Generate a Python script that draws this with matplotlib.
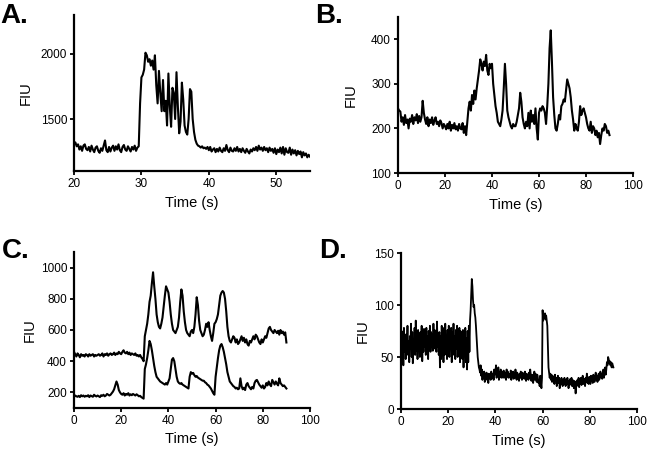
import numpy as np
import matplotlib
matplotlib.use("Agg")
import matplotlib.pyplot as plt

plt.rcParams['font.family'] = ['Liberation Sans', 'DejaVu Sans']

# ---------------- data ----------------
# Panel A: sampled every 0.2 s from 20 s
a_t0, a_dt = 20.0, 0.2
a_values = [
    1310, 1320, 1290, 1305, 1265, 1290, 1255, 1295, 1305, 1270,
    1260, 1285, 1250, 1295, 1265, 1245, 1280, 1290, 1255, 1240,
    1275, 1255, 1295, 1335, 1260, 1245, 1285, 1250, 1280, 1295,
    1255, 1290, 1265, 1305, 1260, 1245, 1285, 1300, 1265, 1255,
    1290, 1270, 1250, 1285, 1265, 1295, 1255, 1280,
    1290, 1620, 1820, 1840, 1880, 2010, 1990, 1940, 1960, 1910,
    1950, 1880, 1990, 1760, 1620, 1870, 1700, 1560, 1800, 1560,
    1640, 1450, 1850, 1600, 1440, 1740, 1700, 1500, 1860, 1600,
    1390, 1480, 1780, 1650, 1450, 1400, 1380, 1500, 1730, 1710,
    1500, 1400, 1340, 1310, 1295, 1290, 1280, 1290, 1275, 1280,
    1270, 1285,
    1260, 1285, 1250, 1265, 1275, 1245, 1270, 1250, 1280, 1255,
    1245, 1275, 1255, 1300, 1260, 1245, 1280, 1255, 1250, 1275,
    1255, 1285, 1250, 1270, 1245, 1275, 1255, 1240, 1270, 1250,
    1235, 1265, 1250, 1275, 1260, 1285, 1255, 1295, 1265, 1280,
    1255, 1285, 1260, 1275, 1245, 1280, 1255, 1270, 1240, 1275,
    1230, 1265, 1245, 1280, 1235, 1285, 1225, 1275, 1245, 1240,
    1280, 1225, 1265, 1235, 1260, 1220, 1255, 1230, 1250, 1205,
    1245, 1220, 1235, 1205, 1225, 1210,
]

# Panel B: sampled every 0.5 s from 0 s
b_t0, b_dt = 0.0, 0.5
b_values = [
    245, 240, 238, 215, 225, 208, 230, 212, 220, 200,
    222, 215, 230, 210, 225, 218, 232, 212, 228, 215,
    225, 262, 235, 220, 210, 225, 205, 220, 212, 225,
    208, 218, 225, 210, 215, 205, 218, 212, 200, 210,
    205, 198, 210, 200, 215, 195, 208, 200, 212, 198,
    205, 195, 210, 200, 198, 212, 190, 205, 185, 215,
    245, 260, 240, 275, 255, 285, 265, 290, 310, 330,
    355, 345, 330, 350, 340, 365, 330, 320, 345, 335,
    345, 300, 275, 250, 235, 215, 210, 205, 220, 240,
    290, 345, 300, 240, 225, 215, 205, 200, 210, 205,
    205, 215, 230, 245, 280, 260, 225, 210, 200, 215,
    205, 235, 200, 240, 215, 230, 210, 245, 200, 175,
    235, 245, 240, 250, 245, 235, 210, 250, 300, 380,
    420, 350, 270, 230, 200, 195, 210, 230, 220, 250,
    255, 265, 260, 285, 310, 300, 290, 270, 240, 220,
    195, 210, 200, 195, 215, 250, 230, 240, 245, 235,
    225, 210, 200, 195, 215, 190, 205, 200, 185, 195,
    180, 190, 165, 185, 200, 195, 210, 205, 190, 195,
    185,
]

# Panel C: two traces sampled every 0.5 s from 0 s
c_t0, c_dt = 0.0, 0.5
c_upper = [
    460, 445, 430, 450, 440, 425, 445, 435, 440, 430,
    445, 440, 430, 445, 435, 440, 445, 430, 440, 435,
    440, 445, 435, 440, 450, 430, 445, 440, 450, 435,
    445, 450, 440, 445, 455, 440, 450, 445, 460, 450,
    445, 460, 470, 455, 450, 460, 445, 455, 440, 450,
    445, 440, 450, 435, 440, 430, 440, 425, 415, 400,
    560, 600, 640, 700, 780, 820, 900, 970, 880, 800,
    700, 650, 620, 610, 640, 680, 750, 820, 880, 860,
    840, 780, 700, 640, 600, 590, 580, 600, 620, 680,
    780, 860, 820, 720, 650, 600, 580, 570, 560, 590,
    600, 580, 620, 700, 810, 760, 660, 600, 580, 560,
    570, 600, 640, 620, 650, 600, 560, 530, 580, 640,
    650, 670, 700, 760, 820, 840, 850, 840, 800, 720,
    620, 560, 530, 520, 540, 560, 550, 520, 540, 510,
    520, 540, 560, 530, 550, 520, 540, 510, 500, 530,
    520, 540, 560, 540, 570, 560, 540, 520, 510, 540,
    520, 540, 560, 550, 580, 610, 620, 600, 590, 580,
    600, 590, 580, 595, 570, 600, 580, 590, 570, 585,
    520,
]
c_lower = [
    170, 180, 175, 172, 178, 170, 182, 175, 180, 172,
    178, 175, 182, 170, 180, 176, 172, 185, 178, 174,
    180, 175, 170, 182, 178, 185, 175, 180, 190, 185,
    180, 185, 195, 205, 220, 245, 270, 250, 215, 200,
    190, 185, 195, 180, 190, 185, 195, 180, 188, 182,
    190, 185, 180, 188, 182, 175, 178, 170, 165, 160,
    350, 380, 420, 470, 530, 510, 470, 420, 370, 330,
    300, 290, 280, 270, 265, 260, 255, 250, 260, 250,
    270, 290, 350, 410, 420, 400, 350, 300, 270, 260,
    255, 260, 250, 245, 240, 235, 230, 225, 300, 330,
    320, 325, 310, 300, 305, 295, 290, 285, 280, 275,
    275, 265, 260, 250, 245, 235, 225, 210, 195, 185,
    300, 360, 420, 470, 500, 510, 490, 460, 420, 380,
    330, 300, 270, 260, 250, 240, 235, 225, 230, 220,
    225, 290, 240, 220, 230, 215, 250, 260, 240, 230,
    220, 235, 225, 260, 275, 280, 265, 250, 240, 230,
    245, 225, 235, 260, 245, 270, 250, 240, 280, 265,
    250, 270, 255, 245, 290, 260, 250, 240, 245, 235,
    225,
]

# Panel D: sampled every 0.25 s from 0 s
d_t0, d_dt = 0.0, 0.25
d_values = [
    45, 75, 50, 70, 42, 78, 55, 68,
    48, 72, 60, 80, 52, 65, 45, 70,
    58, 82, 50, 74, 44, 66, 60, 78,
    52, 85, 56, 72, 48, 76, 62, 70,
    50, 74, 58, 80, 46, 68, 55, 77,
    60, 72, 52, 78, 58, 70, 48, 75,
    62, 80, 55, 74, 60, 72, 56, 82,
    58, 76, 64, 70, 55, 84, 60, 72,
    52, 74, 40, 70, 48, 80, 58, 66,
    45, 78, 52, 82, 60, 70, 48, 76,
    55, 80, 50, 72, 62, 78, 45, 74,
    60, 82, 52, 70, 48, 76, 58, 80,
    50, 72, 62, 78, 45, 75, 55, 70,
    48, 76, 40, 72, 52, 78, 45, 68,
    38, 75, 45, 80, 55, 85, 95, 110,
    125, 118, 105, 98, 100, 92, 88, 80,
    70, 60, 50, 45, 40, 38, 35, 42,
    32, 38, 28, 35, 30, 36, 26, 34,
    30, 35, 28, 33, 25, 34, 30, 32,
    28, 36, 32, 30, 34, 28, 38, 33,
    35, 42, 30, 38, 33, 40, 28, 35,
    32, 38, 30, 36, 34, 30, 37, 33,
    30, 35, 28, 38, 32, 36, 30, 34,
    33, 30, 37, 28, 35, 31, 36, 29,
    34, 30, 38, 32, 28, 35, 30, 33,
    27, 34, 30, 36, 32, 28, 35, 30,
    33, 29, 36, 31, 27, 34, 30, 32,
    28, 35, 30, 38, 32, 27, 33, 30,
    25, 32, 36, 28, 34, 30, 26, 33,
    30, 25, 28, 22, 32, 26, 20, 30,
    95, 85, 90, 88, 92, 86, 90, 85,
    80, 60, 40, 35, 30, 34, 28, 33,
    26, 32, 28, 30, 24, 33, 27, 30,
    22, 28, 32, 25, 30, 20, 27, 24,
    30, 25, 22, 28, 24, 30, 26, 22,
    28, 24, 30, 26, 20, 27, 23, 29,
    25, 30, 22, 28, 26, 20, 27, 24,
    15, 26, 22, 28, 24, 30, 21, 27,
    25, 30, 23, 28, 32, 24, 29, 26,
    22, 30, 27, 34, 25, 29, 24, 31,
    28, 24, 32, 27, 30, 25, 33, 28,
    26, 30, 35, 28, 32, 26, 30, 34,
    28, 32, 36, 30, 34, 29, 33, 38,
    30, 35, 40, 33, 38, 45, 42, 50,
    48, 44, 46, 42, 45, 40, 44, 42,
    40,
]

panel_letters = ["A.", "B.", "C.", "D."]
a_xticks = [20, 30, 40, 50]
a_yticks = [1500, 2000]
b_xticks = [0, 20, 40, 60, 80, 100]
b_yticks = [100, 200, 300, 400]
c_xticks = [0, 20, 40, 60, 80, 100]
c_yticks = [200, 400, 600, 800, 1000]
d_xticks = [0, 20, 40, 60, 80, 100]
d_yticks = [0, 50, 100, 150]
xlabel = "Time (s)"
ylabel = "FIU"


def times(t0, dt, vals):
    return t0 + dt * np.arange(len(vals))


# ---------------- figure ----------------
W, H = 647, 451
fig = plt.figure(figsize=(W / 100, H / 100), dpi=100)


def px_axes(left, top, right, bottom):
    return fig.add_axes([left / W, 1 - bottom / H, (right - left) / W, (bottom - top) / H])


axA = px_axes(74, 15, 310, 171)
axB = px_axes(398, 17, 633, 173)
axC = px_axes(74, 252, 310, 408)
axD = px_axes(401, 253, 637, 409)

lw = 1.5
axA.plot(times(a_t0, a_dt, a_values), a_values, color='black', lw=lw)
axB.plot(times(b_t0, b_dt, b_values), b_values, color='black', lw=lw)
axC.plot(times(c_t0, c_dt, c_upper), c_upper, color='black', lw=lw)
axC.plot(times(c_t0, c_dt, c_lower), c_lower, color='black', lw=lw)
axD.plot(times(d_t0, d_dt, d_values), d_values, color='black', lw=1.3)

setup = [
    (axA, (20, 55), (1100, 2300), a_xticks, a_yticks, -0.174),
    (axB, (0, 100), (100, 450), b_xticks, b_yticks, -0.170),
    (axC, (0, 100), (100, 1100), c_xticks, c_yticks, -0.157),
    (axD, (0, 100), (0, 150), d_xticks, d_yticks, -0.132),
]
for ax, xl, yl, xt, yt, lx in setup:
    ax.set_xlim(*xl)
    ax.set_ylim(*yl)
    ax.set_xticks(xt)
    ax.set_yticks(yt)
    for s in ('top', 'right'):
        ax.spines[s].set_visible(False)
    for s in ('left', 'bottom'):
        ax.spines[s].set_linewidth(1.6)
    ax.tick_params(direction='out', length=3, width=1.3, pad=2, labelsize=8.5, colors='black')
    ax.set_xlabel(xlabel, fontsize=10.5, labelpad=4)
    ax.set_ylabel(ylabel, fontsize=10.5)
    ax.yaxis.set_label_coords(lx, 0.5)
    ax.patch.set_visible(False)

letter_pos = [(0, 22.7), (315, 22.7), (2, 258), (319, 258)]
for letter, (x, y) in zip(panel_letters, letter_pos):
    fig.text(x / W, 1 - y / H, letter, fontsize=20, fontweight='bold',
             ha='left', va='baseline')

fig.savefig("out.png", dpi=100)
